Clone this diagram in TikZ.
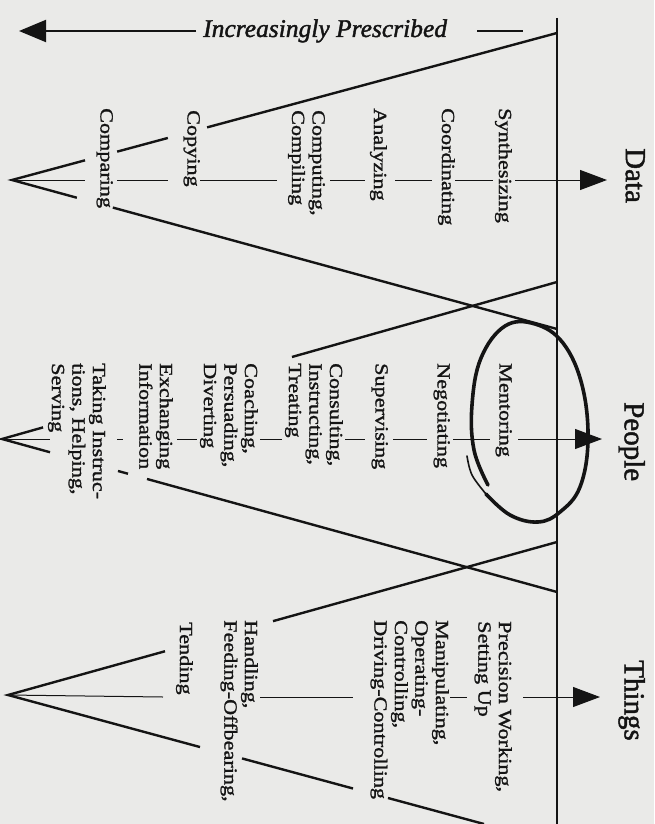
\documentclass[tikz,border=0pt]{standalone}
\usepackage{fontspec}
\setmainfont{Liberation Serif}
\newfontfamily\lblfont[FakeStretch=1.2,FakeBold=1.4]{Liberation Serif}
\newfontfamily\ttlfont[FakeBold=1.6]{Liberation Serif}
\usetikzlibrary{arrows.meta,calc}
\definecolor{paper}{RGB}{234,234,232}
\definecolor{ink}{RGB}{20,20,20}
\tikzset{
  lab/.style={rotate=-90, anchor=north west, inner sep=0pt, align=left, text=ink,
    font=\lblfont\fontsize{18.5}{20.5}\selectfont},
  ttl/.style={rotate=-90, anchor=north west, inner sep=0pt, text=ink,
    font=\ttlfont\fontsize{29}{32}\selectfont},
  tri/.style={draw=ink, line width=2.4pt},
  ax/.style={draw=ink, line width=1pt},
  bigtip/.style={-{Triangle[length=27pt,width=20pt]}},
  circ/.style={draw=ink, line width=3.6pt, line cap=round}
}
\begin{document}
\begin{tikzpicture}[x=1pt,y=-1pt]
\useasboundingbox (0,0) rectangle (654,824);
\fill[paper] (0,0) rectangle (654,824);

% corners and apexes
\coordinate (DT) at (557,33);  \coordinate (D0) at (12,180);  \coordinate (DB) at (557,329);
\coordinate (PT) at (557,282); \coordinate (P0) at (2,439);   \coordinate (PB) at (557,592);
\coordinate (TT) at (557,542); \coordinate (T0) at (8,695);   \coordinate (TB) at (484,824);
\coordinate (Vtop) at (557,18); \coordinate (Vbot) at (557,824);

% main vertical line
\draw[draw=ink, line width=2pt] (Vtop) -- (Vbot);

% top arrow
\coordinate (Ia) at (196,31); \coordinate (Ib) at (19,31);
\coordinate (Ic) at (477,31); \coordinate (Id) at (523,31);
\draw[draw=ink, line width=2pt, -{Triangle[length=27pt,width=22pt]}] (Ia) -- (Ib);
\draw[draw=ink, line width=2pt] (Ic) -- (Id);
\node[anchor=base west, inner sep=0pt, text=ink, font=\ttlfont\itshape\fontsize{25.5}{28}\selectfont]
  (incr) at (203,37) {Increasingly Prescribed};

% ---- Data triangle ----
\draw[tri] (DT) -- ($(D0)!0.358!(DT)$);
\draw[tri] ($(D0)!0.286!(DT)$) -- ($(D0)!0.193!(DT)$);
\draw[tri] ($(D0)!0.134!(DT)$) -- (D0) -- ($(D0)!0.119!(DB)$);
\draw[tri] ($(D0)!0.185!(DB)$) -- (DB);
% Data axis
\draw[ax] (D0) -- (85,180);
\draw[ax] (117,180) -- (168,180);
\draw[ax] (200,180) -- (277,180);
\draw[ax] (330,180) -- (365,180);
\draw[ax] (395,180) -- (432,180);
\draw[ax] (455,180) -- (493,180);
\draw[ax, bigtip] (515,180) -- (607,180);

% ---- People triangle ----
\draw[tri] (PT) -- ($(P0)!0.5225!(PT)$);
\draw[tri] ($(P0)!0.074!(PT)$) -- (P0) -- ($(P0)!0.0865!(PB)$);
\draw[tri] ($(P0)!0.209!(PB)$) -- ($(P0)!0.227!(PB)$);
\draw[tri] ($(P0)!0.2613!(PB)$) -- (PB);
% People axis
\draw[ax] (P0) -- (50,439);
\draw[ax] (117,439) -- (123,439);
\draw[ax] (177,439) -- (197,439);
\draw[ax] (260,439) -- (282,439);
\draw[ax] (345,439) -- (365,439);
\draw[ax] (393,439) -- (427,439);
\draw[ax] (453,439) -- (490,439);
\draw[ax, bigtip] (518,439) -- (602,439);

% ---- Things triangle ----
\draw[tri] (TT) -- ($(T0)!0.4827!(TT)$);
\draw[tri] ($(T0)!0.286!(TT)$) -- (T0) -- ($(T0)!0.4034!(TB)$);
\draw[tri] ($(T0)!0.4916!(TB)$) -- ($(T0)!0.7248!(TB)$);
\draw[tri] ($(T0)!0.7983!(TB)$) -- (TB);
% Things axis
\draw[ax] (T0) -- (163,697);
\draw[ax] (260,697) -- (353,697);
\draw[ax] (450,697) -- (467,697);
\draw[ax, bigtip] (523,697) -- (600,697);

% ---- headings ----
\node[ttl] (hData)   at (645,148) {Data};
\node[ttl] (hPeople) at (645,402) {People};
\node[ttl] (hThings) at (645,660) {Things};

% ---- Data labels ----
\node[lab] (synth) at (512,108) {Synthesizing};
\node[lab] (coord) at (455,108) {Coordinating};
\node[lab] (analy) at (387,108) {Analyzing};
\node[lab] (compu) at (325,110) {Computing,\\Compiling};
\node[lab] (copyi) at (200,110) {Copying};
\node[lab] (compa) at (113,108) {Comparing};

% ---- People labels ----
\node[lab] (mento) at (512,363) {Mentoring};
\node[lab] (negot) at (450,363) {Negotiating};
\node[lab] (super) at (388,363) {Supervising};
\node[lab] (consu) at (343,363) {Consulting,\\Instructing,\\Treating};
\node[lab] (coach) at (258,363) {Coaching,\\Persuading,\\Diverting};
\node[lab] (excha) at (173,363) {Exchanging\\Information};
\node[lab] (takin) at (106,363) {Taking Instruc-\\tions, Helping,\\Serving};

% ---- Things labels ----
\node[lab] (preci) at (512,621) {Precision Working,\\Setting Up};
\node[lab] (manip) at (449,620) {Manipulating,\\Operating-\\Controlling,\\Driving-Controlling};
\node[lab] (handl) at (258,620) {Handling,\\Feeding-Offbearing,};
\node[lab] (tendi) at (193,622) {Tending};

% ---- hand-drawn loop round Mentoring ----
\draw[circ] plot[smooth, tension=0.65] coordinates {(488,485) (474,450) (472,405) (481,358) (505,326) (535,324) (563,343) (582,385) (588,440) (580,487) (560,512) (538,522) (510,515) (486,494)};
\draw[draw=ink, line width=1.6pt, line cap=round] plot[smooth, tension=0.6] coordinates {(486,494) (472,475) (467,456)};
\end{tikzpicture}
\end{document}
